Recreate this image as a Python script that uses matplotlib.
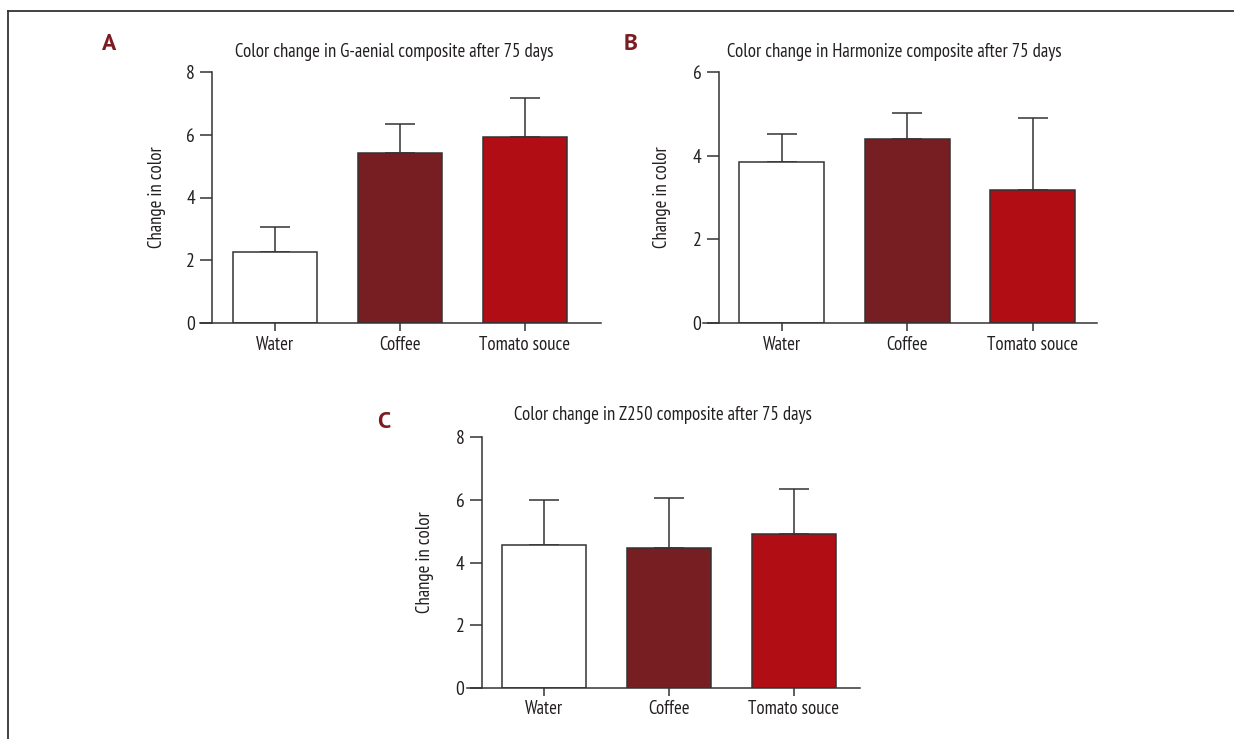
import numpy as np
import matplotlib
matplotlib.use('Agg')
import matplotlib.pyplot as plt
from matplotlib.lines import Line2D

plt.rcParams['font.family'] = ['PT Sans Narrow', 'DejaVu Sans']

categories = ['Water', 'Coffee', 'Tomato souce']
bar_colors = ['#ffffff', '#761e22', '#b00d15']

means_a = [2.27, 5.42, 5.92]
sd_a = [0.78, 0.93, 1.26]
means_b = [3.86, 4.39, 3.19]
sd_b = [0.65, 0.64, 1.71]
means_c = [4.55, 4.47, 4.92]
sd_c = [1.43, 1.58, 1.42]

titles = ['Color change in G-aenial composite after 75 days',
          'Color change in Harmonize composite after 75 days',
          'Color change in Z250 composite after 75 days']
letters = ['A', 'B', 'C']
ymax = [8, 6, 8]

W, H = 1234, 739
line_col = '#333333'
text_col = '#231f20'

# panel layout in pixels: axes box (left, right, top, bottom), xlim, title, letter, ylabel x
panels = [
    dict(box=(200, 601, 72, 323), xlim=(-0.6, 2.61), title=(394, 52), letter=(109, 45), ylab=157),
    dict(box=(703, 1097, 72, 323), xlim=(-0.625, 2.51), title=(894, 52), letter=(631, 45), ylab=662),
    dict(box=(467, 860, 437, 688), xlim=(-0.62, 2.53), title=(663, 415), letter=(384, 422), ylab=425),
]

fig = plt.figure(figsize=(W / 100, H / 100), dpi=100)

data = [(means_a, sd_a), (means_b, sd_b), (means_c, sd_c)]
for i, (means, sds) in enumerate(data):
    p = panels[i]
    l, r, t, b = p['box']
    ax = fig.add_axes([l / W, 1 - b / H, (r - l) / W, (b - t) / H])
    x = np.arange(len(categories))
    ax.errorbar(x, means, yerr=[np.zeros(len(sds)), sds], fmt='none',
                ecolor=line_col, elinewidth=1.1, capsize=10.5, capthick=1.1, zorder=1)
    ax.bar(x, means, width=0.675, color=bar_colors, edgecolor=line_col,
           linewidth=1.1, zorder=2)
    ax.set_xlim(*p['xlim'])
    ax.set_ylim(0, ymax[i])
    ax.set_yticks(np.arange(0, ymax[i] + 1, 2))
    ax.set_xticks(x)
    ax.set_xticklabels(categories)
    for s in ['top', 'right']:
        ax.spines[s].set_visible(False)
    ax.spines['left'].set_position(('data', -0.5))
    for s in ['left', 'bottom']:
        ax.spines[s].set_color(line_col)
        ax.spines[s].set_linewidth(1.1)
    ax.tick_params(axis='y', length=8.5, width=1.1, color=line_col, pad=4,
                   labelsize=14, labelcolor=text_col)
    ax.tick_params(axis='x', length=6, width=1.1, color=line_col, pad=3,
                   labelsize=13.5, labelcolor=text_col)
    ax.patch.set_alpha(0)

    tx, ty = p['title']
    fig.text(tx / W, 1 - ty / H, titles[i], ha='center', va='center',
             fontsize=13.5, color=text_col)
    lx, ly = p['letter']
    fig.text(lx / W, 1 - ly / H, letters[i], ha='center', va='center',
             fontsize=17, fontweight='bold', color='#7b1c20',
             family=['PT Sans', 'DejaVu Sans'])
    fig.text(p['ylab'] / W, 1 - ((t + b) / 2) / H, 'Change in color',
             rotation=90, ha='center', va='center', fontsize=13.5, color=text_col)

# outer frame (top and left edges)
fy = 1 - 11 / H
fx = 8 / W
fig.add_artist(Line2D([fx, fx], [0, fy], color='#333333', lw=1.3))
fig.add_artist(Line2D([fx, 1], [fy, fy], color='#333333', lw=1.3))

fig.savefig('out.png', dpi=100, facecolor='white')
